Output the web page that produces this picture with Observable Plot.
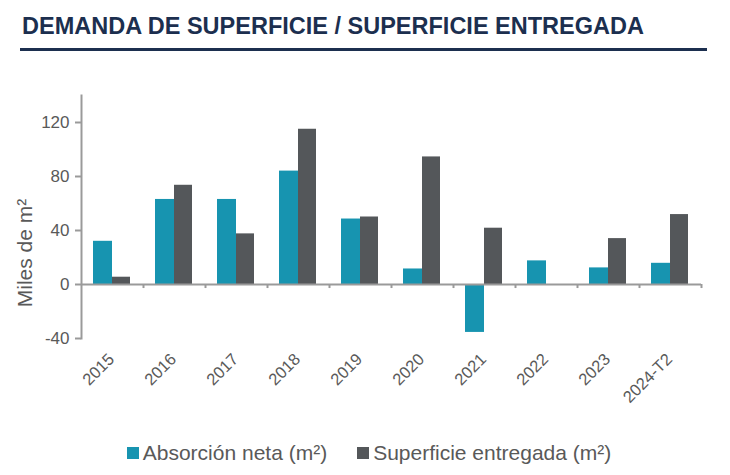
<!DOCTYPE html>
<html><head><meta charset="utf-8">
<script src="https://cdn.jsdelivr.net/npm/d3@7"></script>
<script src="https://cdn.jsdelivr.net/npm/@observablehq/plot@0.6"></script>
<style>
body{margin:0;background:#fff;font-family:"Liberation Sans",Arial,sans-serif;}
#title{position:relative;height:55px;}
#title .t{position:absolute;left:22px;top:13px;font-size:23.5px;font-weight:bold;color:#1c2f4f;}
#title .u{position:absolute;left:20px;top:48px;width:687px;height:3px;background:#1c2f4f;}
#legend{height:45px;display:flex;justify-content:center;align-items:center;gap:30px;font-size:21px;color:#595959;padding-left:8px;}
#legend span.sw{display:inline-block;width:12px;height:12px;margin-right:4px;vertical-align:1px;}
</style></head>
<body>
<div id="title"><div class="t">DEMANDA DE SUPERFICIE / SUPERFICIE ENTREGADA</div><div class="u"></div></div>
<div id="chart"></div>
<div id="legend"></div>
<script>
const years = ["2015","2016","2017","2018","2019","2020","2021","2022","2023","2024-T2"];
const absorcion = [32, 63, 63, 84, 48.5, 11.5, -35.5, 17.5, 12.3, 15.7];
const entregada = [5.4, 73.5, 37.5, 115, 50, 94.5, 41.7, 0, 34, 51.8];
const seriesNames = ["Absorción neta (m²)", "Superficie entregada (m²)"];
const seriesColors = ["#1794b0", "#54575a"];
const yTicks = [-40, 0, 40, 80, 120];

const rowsA = years.map((y, i) => ({year: y, value: absorcion[i]}));
const rowsE = years.map((y, i) => ({year: y, value: entregada[i]}));
const axisGray = "#9a9a9a";
const textGray = "#595959";

const chart = Plot.plot({
  width: 730,
  height: 375,
  marginLeft: 81,
  marginRight: 29,
  marginTop: 40,
  marginBottom: 92,
  style: {fontFamily: "'Liberation Sans', Arial, sans-serif", color: textGray, background: "white"},
  x: {domain: years, padding: 0},
  y: {domain: [-40, 140], ticks: yTicks},
  marks: [
    Plot.barY(rowsA, {x: "year", y: "value", fill: seriesColors[0], insetLeft: 12, insetRight: 31}),
    Plot.barY(rowsE, {x: "year", y: "value", fill: seriesColors[1], insetLeft: 31, insetRight: 13}),
    Plot.ruleY([0], {stroke: axisGray, strokeWidth: 2}),
    Plot.ruleX(years, {x: d => d, y1: 0, y2: -3, dx: 31, stroke: axisGray, strokeWidth: 2}),
    Plot.frame({anchor: "left", stroke: axisGray, strokeWidth: 2}),
    Plot.axisY({ticks: yTicks, tickSize: 6, tickPadding: 6, fontSize: 17, stroke: axisGray, color: textGray, strokeWidth: 2,
      tickFormat: d => String(d),
      label: "Miles de m²", labelAnchor: "center", labelArrow: false, labelOffset: 64}),
    Plot.axisX({anchor: "bottom", tickSize: 0, tickPadding: 18, tickRotate: -45, fontSize: 16.5, color: textGray, dx: -1, label: null})
  ]
});
document.getElementById("chart").appendChild(chart);
chart.querySelectorAll("g[aria-label='y-axis label']").forEach(g => {
  const old = g.getAttribute("transform") || "";
  g.setAttribute("transform", "translate(0,36) " + old);
  g.querySelectorAll("text").forEach(t => t.setAttribute("font-size", "21"));
});

const legend = document.getElementById("legend");
seriesNames.forEach((n, i) => {
  const d = document.createElement("div");
  d.innerHTML = `<span class="sw" style="background:${seriesColors[i]}"></span>${n}`;
  legend.appendChild(d);
});
</script>
</body></html>
